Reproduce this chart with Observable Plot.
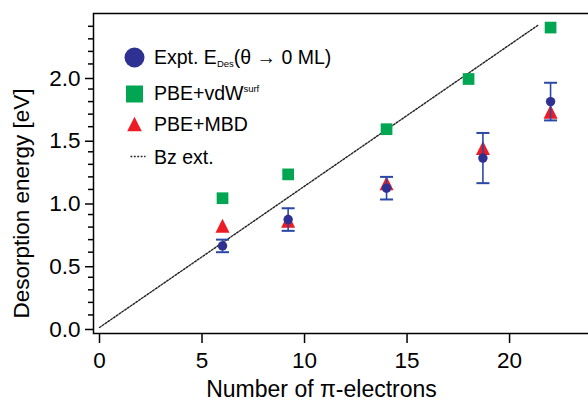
<!DOCTYPE html>
<html><head><meta charset="utf-8">
<script src="https://cdn.jsdelivr.net/npm/d3@7"></script>
<script src="https://cdn.jsdelivr.net/npm/@observablehq/plot@0.6"></script>
<style>
html,body{margin:0;padding:0;background:#fff;overflow:hidden;}
</style>
</head><body><div id="chart"></div>
<script>
// ---- data ----
const exptX   = [6, 9.2, 14, 18.7, 22];
const exptY   = [0.65, 0.86, 1.11, 1.35, 1.80];
const exptErr = [0.05, 0.09, 0.09, 0.20, 0.15];
const vdwX    = [6, 9.2, 14, 18, 22];
const vdwY    = [1.03, 1.22, 1.58, 1.98, 2.39];
const mbdX    = [6, 9.2, 14, 18.7, 22];
const mbdY    = [0.81, 0.85, 1.15, 1.43, 1.72];
const bzX     = [0, 21.4];
const bzY     = [0, 2.41];
const xTicks  = [0, 5, 10, 15, 20];
const yTicks  = [0, 0.5, 1.0, 1.5, 2.0];
const yMinorTicks = [0.1,0.2,0.3,0.4,0.6,0.7,0.8,0.9,1.1,1.2,1.3,1.4,1.6,1.7,1.8,1.9,2.1,2.2,2.3,2.4];
const xLabel = "Number of π-electrons";
const yLabel = "Desorption energy [eV]";
// legend labels as [main, sub/sup, rest]
const legendExpt = ["Expt. E", "Des", "(θ → 0 ML)"];
const legendVdw  = ["PBE+vdW", "surf"];
const legendMbd  = "PBE+MBD";
const legendBz   = "Bz ext.";

const expt = exptX.map((x, i) => ({x, y: exptY[i], lo: exptY[i] - exptErr[i], hi: exptY[i] + exptErr[i]}));
const vdw = vdwX.map((x, i) => ({x, y: vdwY[i]}));
const mbd = mbdX.map((x, i) => ({x, y: mbdY[i]}));
const bz = bzX.map((x, i) => ({x, y: bzY[i]}));

// custom symbols
const hline = {draw(ctx, size) { const r = Math.sqrt(size / Math.PI); ctx.moveTo(-r, 0); ctx.lineTo(r, 0); }};
const tri = {draw(ctx, size) { const r = Math.sqrt(size / Math.PI); ctx.moveTo(0, -r); ctx.lineTo(r, r); ctx.lineTo(-r, r); ctx.closePath(); }};
const sq = {draw(ctx, size) { const r = Math.sqrt(size / Math.PI); ctx.rect(-r, -r, 2 * r, 2 * r); }};

const navy = "#2e3192", errBlue = "#2a48a6", green = "#00a651", red = "#ed1c24";
const font = "'Liberation Sans', Arial, Helvetica, sans-serif";
const legFont = 19.5;
const dash = "1.8,1.6";
const legText = (label, dy) => Plot.text([label], {frameAnchor: "top-left", dx: 60.5, dy, textAnchor: "start", lineAnchor: "middle", fontSize: legFont, fill: "black"});

const chart = Plot.plot({
  width: 588, height: 401,
  marginLeft: 93, marginTop: 13, marginBottom: 68, marginRight: -3,
  style: {fontFamily: font, overflow: "hidden", background: "white", color: "black"},
  x: {domain: [-0.293, 23.85], range: [93, 588]},
  y: {domain: [-0.048, 2.502]},
  marks: [
    Plot.axisX(xTicks, {tickSize: 10, tickPadding: 9, fontSize: 22.5, strokeWidth: 1.5, label: null, tickFormat: d => d}),
    Plot.axisY(yTicks, {tickSize: 8, tickPadding: 5, fontSize: 22.5, strokeWidth: 1.5, label: null, dy: 2, tickFormat: d3.format(".1f")}),
    Plot.axisY(yMinorTicks, {tickSize: 5, strokeWidth: 1.5, label: null, tickFormat: () => ""}),
    Plot.frame({stroke: "black", strokeWidth: 1.5}),
    Plot.line(bz, {x: "x", y: "y", stroke: "#222", strokeWidth: 1.4, strokeDasharray: dash}),
    Plot.dot(vdw, {x: "x", y: "y", symbol: sq, r: 5.85, fill: green, stroke: "none"}),
    Plot.dot(mbd, {x: "x", y: "y", symbol: tri, r: 7, fill: red, stroke: "none"}),
    Plot.ruleX(expt, {x: "x", y1: "lo", y2: "hi", stroke: errBlue, strokeWidth: 1.6}),
    Plot.dot(expt, {x: "x", y: "lo", symbol: hline, r: 6.5, stroke: errBlue, strokeWidth: 2, fill: "none"}),
    Plot.dot(expt, {x: "x", y: "hi", symbol: hline, r: 6.5, stroke: errBlue, strokeWidth: 2, fill: "none"}),
    Plot.dot(expt, {x: "x", y: "y", r: 4.7, fill: navy, stroke: "none"}),
    // axis titles
    Plot.text([xLabel], {frameAnchor: "bottom", dx: -21, dy: 47.5, textAnchor: "middle", lineAnchor: "top", fontSize: 23, fill: "black"}),
    Plot.text([yLabel], {frameAnchor: "left", rotate: -90, dx: -80.5, dy: 30, textAnchor: "middle", lineAnchor: "top", fontSize: 22.5, fill: "black"}),
    // legend symbols
    Plot.dot([0], {frameAnchor: "top-left", dx: 41, dy: 44, r: 10, fill: navy, stroke: "none"}),
    Plot.dot([0], {frameAnchor: "top-left", dx: 41, dy: 80.5, symbol: sq, r: 8.5, fill: green, stroke: "none"}),
    Plot.dot([0], {frameAnchor: "top-left", dx: 41, dy: 110.5, symbol: tri, r: 7.3, fill: red, stroke: "none"}),
    Plot.dot([0], {frameAnchor: "top-left", dx: 44.5, dy: 143, symbol: hline, r: 7.5, stroke: "#222", strokeWidth: 1.4, strokeDasharray: dash, fill: "none"}),
    // legend texts
    legText(legendExpt.join(""), 44),
    legText(legendVdw.join(""), 80.5),
    legText(legendMbd, 111.5),
    legText(legendBz, 144)
  ]
});
document.getElementById("chart").appendChild(chart);

// rich text for sub/superscripts
d3.select(chart).selectAll("text").each(function () {
  const t = this.textContent;
  const sel = d3.select(this);
  if (t === legendExpt.join("")) {
    sel.text(null);
    sel.append("tspan").text(legendExpt[0]);
    sel.append("tspan").attr("font-size", 9.5).attr("dy", 3.5).text(legendExpt[1]);
    sel.append("tspan").attr("font-size", legFont).attr("dy", -3.5).text(legendExpt[2]);
  } else if (t === legendVdw.join("")) {
    sel.text(null);
    sel.append("tspan").text(legendVdw[0]);
    sel.append("tspan").attr("font-size", 9.5).attr("dy", -8).text(legendVdw[1]);
  }
});
</script>
</body></html>
